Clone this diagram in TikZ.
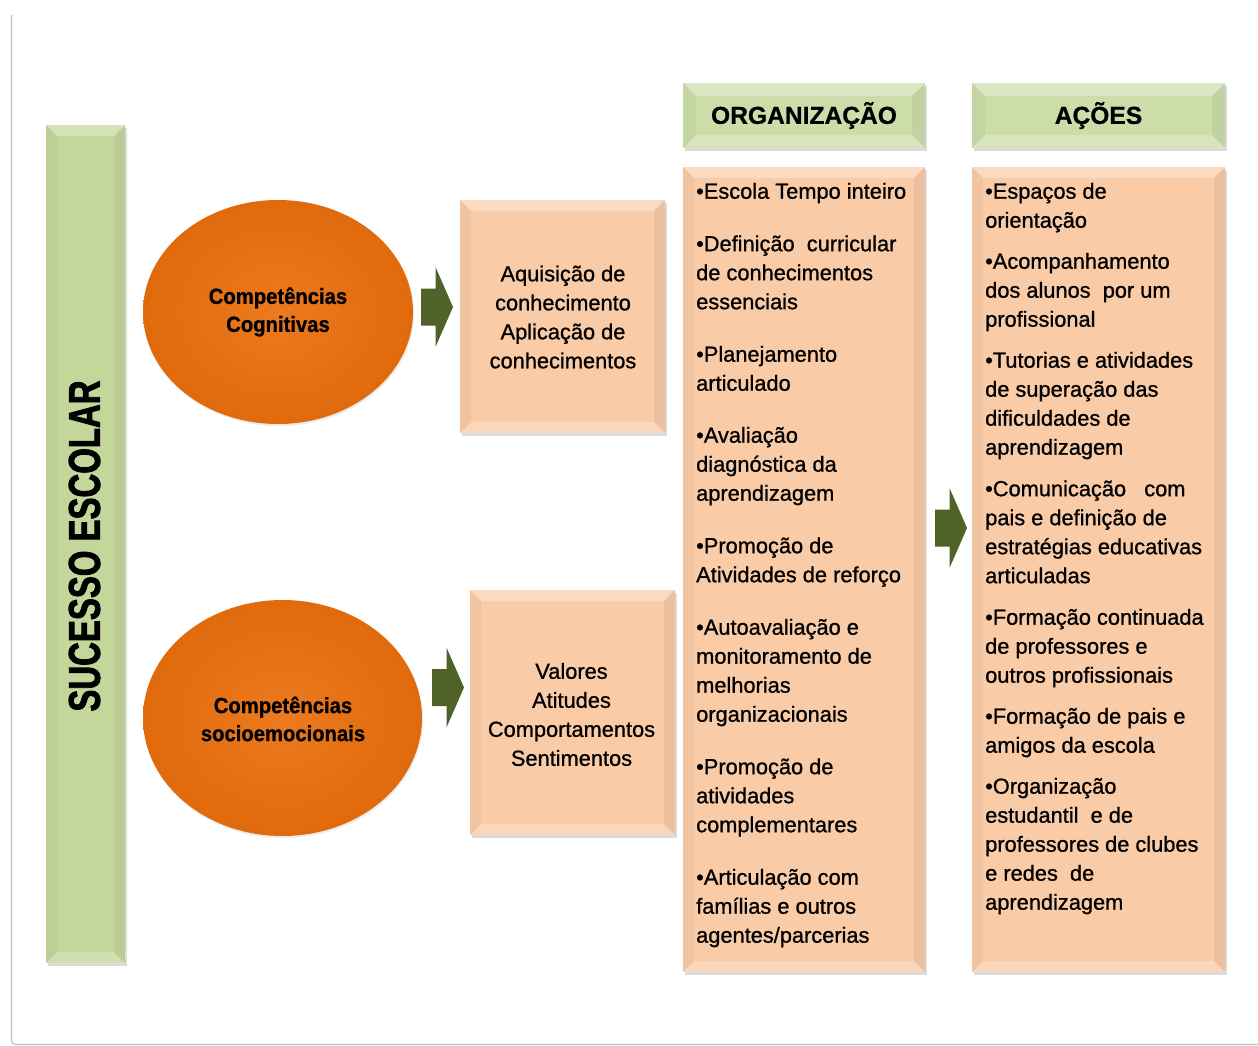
\documentclass[tikz,border=0pt]{standalone}
\usepackage{fontspec}
\setmainfont{Liberation Sans}[FakeBold=0.9]
\newfontfamily\ellfont[FakeStretch=0.92,FakeBold=1]{Liberation Sans Bold}
\newfontfamily\hdrfont[FakeBold=0.8]{Liberation Sans Bold}
\newfontfamily\barfont[FakeStretch=0.74,FakeBold=1.8]{Liberation Sans Bold}
\usetikzlibrary{shadows,shapes.geometric}
\definecolor{barg}{HTML}{C4D79B}
\definecolor{hdrg}{HTML}{CCDDAA}
\definecolor{peach}{HTML}{F9CBA7}
\definecolor{orng}{HTML}{E06A0C}
\definecolor{orngin}{HTML}{EC7A1E}
\definecolor{arrg}{HTML}{4F6228}
\definecolor{frameg}{HTML}{BFBFBF}
\tikzset{
  bevel/.style={path picture={
    \fill[white,opacity=0.30] (path picture bounding box.north west) -- (path picture bounding box.north east)
       -- ([xshift=-#1,yshift=-#1]path picture bounding box.north east) -- ([xshift=#1,yshift=-#1]path picture bounding box.north west) -- cycle;
    \fill[white,opacity=0.22] (path picture bounding box.south west) -- (path picture bounding box.south east)
       -- ([xshift=-#1,yshift=#1]path picture bounding box.south east) -- ([xshift=#1,yshift=#1]path picture bounding box.south west) -- cycle;
    \fill[black,opacity=0.035] (path picture bounding box.north west) -- (path picture bounding box.south west)
       -- ([xshift=#1,yshift=#1]path picture bounding box.south west) -- ([xshift=#1,yshift=-#1]path picture bounding box.north west) -- cycle;
    \fill[black,opacity=0.05] (path picture bounding box.north east) -- (path picture bounding box.south east)
       -- ([xshift=-#1,yshift=#1]path picture bounding box.south east) -- ([xshift=-#1,yshift=-#1]path picture bounding box.north east) -- cycle;
  }},
  bevel/.default=10pt,
  softshadow/.style={drop shadow={shadow xshift=2pt, shadow yshift=-3pt, opacity=0.2, fill=black!70}},
  greenbox/.style={rectangle, fill=barg, draw=none, inner sep=0pt, softshadow, bevel=11pt},
  hdrbox/.style={rectangle, fill=hdrg, draw=none, inner sep=0pt, softshadow, bevel=13pt},
  peachbox/.style={rectangle, fill=peach, draw=none, inner sep=0pt, softshadow, bevel=11pt},
  oval/.style={ellipse, draw=none, inner sep=0pt, inner color=orngin, outer color=orng,
     drop shadow={shadow xshift=1pt, shadow yshift=-2pt, opacity=0.12, fill=black!60}},
  blockarrow/.style={fill=arrg, draw=none},
  bodytext/.style={font=\fontsize{21.8pt}{29pt}\selectfont, inner sep=0pt},
  listtext/.style={bodytext, align=left, anchor=north west},
  boxtext/.style={bodytext, align=center},
  elltext/.style={font=\ellfont\fontsize{22pt}{28pt}\selectfont, align=center, inner sep=0pt},
  hdrtext/.style={font=\hdrfont\fontsize{24.6pt}{29pt}\selectfont, inner sep=0pt},
}
\begin{document}
\begin{tikzpicture}[x=1pt,y=-1pt]
\useasboundingbox (0,0) rectangle (1258,1046);
\fill[white] (0,0) rectangle (1258,1046);
% frame
\draw[frameg, line width=1.2pt, rounded corners=4pt] (11.5,15) -- (11.5,1044.5) -- (1258,1044.5);

% left bar
\node[greenbox, minimum width=79pt, minimum height=838pt] (bar) at (85.5,544) {};
\node[rotate=90, font=\barfont\fontsize{44.5pt}{48pt}\selectfont, inner sep=0pt] (barlabel) at (84.5,546) {SUCESSO ESCOLAR};

% ellipses
\node[oval, minimum width=270pt, minimum height=224pt] (cog) at (278,312) {};
\node[elltext] (cogt) at (cog.center) {Competências\\Cognitivas};
\node[oval, minimum width=279pt, minimum height=236pt] (soc) at (282.5,718) {};
\node[elltext] (soct) at (283,719) {Competências\\socioemocionais};

% middle boxes
\node[peachbox, minimum width=205pt, minimum height=233pt] (aq) at (562.5,316.5) {};
\node[boxtext] (aqt) at (563,317) {Aquisição de\\conhecimento\\Aplicação de\\conhecimentos};
\node[peachbox, minimum width=205pt, minimum height=245pt] (val) at (572.5,712.5) {};
\node[boxtext] (valt) at (571.5,714.5) {Valores\\Atitudes\\Comportamentos\\Sentimentos};

% headers
\node[hdrbox, minimum width=242pt, minimum height=65pt] (horg) at (804,115.5) {};
\node[hdrtext] (horgt) at (804,115.5) {ORGANIZAÇÃO};
\node[hdrbox, minimum width=253pt, minimum height=65pt] (hac) at (1098.5,115.5) {};
\node[hdrtext] (hact) at (1098.5,115.5) {AÇÕES};

% list boxes
\node[peachbox, minimum width=242pt, minimum height=805pt] (lorg) at (804,569.5) {};
\node[peachbox, minimum width=253pt, minimum height=805pt] (lac) at (1098.5,569.5) {};

\node[listtext] (lorgt) at (696,178.2) {\strut•Escola Tempo inteiro\\[23.5pt]
•Definição\ \ curricular\\de conhecimentos\\essenciais\\[23.5pt]
•Planejamento\\articulado\\[23pt]
•Avaliação\\diagnóstica da\\aprendizagem\\[23.5pt]
•Promoção de\\Atividades de reforço\\[23.5pt]
•Autoavaliação e\\monitoramento de\\melhorias\\organizacionais\\[23.5pt]
•Promoção de\\atividades\\complementares\\[23.5pt]
•Articulação com\\famílias e outros\\agentes/parcerias};

\node[listtext] (lact) at (985,178.2) {\strut•Espaços de\\orientação\\[12pt]
•Acompanhamento\\dos alunos\ \ por um\\profissional\\[12pt]
•Tutorias e atividades\\de superação das\\dificuldades de\\aprendizagem\\[12.5pt]
•Comunicação\ \ \ com\\pais e definição de\\estratégias educativas\\articuladas\\[12.5pt]
•Formação continuada\\de professores e\\outros profissionais\\[12pt]
•Formação de pais e\\amigos da escola\\[12pt]
•Organização\\estudantil\ \ e de\\professores de clubes\\e redes\ \ de\\aprendizagem};

% block arrows
\coordinate (a1) at (437,307);
\coordinate (a2) at (448,687.5);
\coordinate (a3) at (951,528);
\foreach \c in {a1,a2,a3}{
  \fill[blockarrow, shift={(\c)}] (-16,-18.5) -- (-1.5,-18.5) -- (-1.5,-40) -- (16,0) -- (-1.5,40) -- (-1.5,18.5) -- (-16,18.5) -- cycle;
}
\end{tikzpicture}
\end{document}
